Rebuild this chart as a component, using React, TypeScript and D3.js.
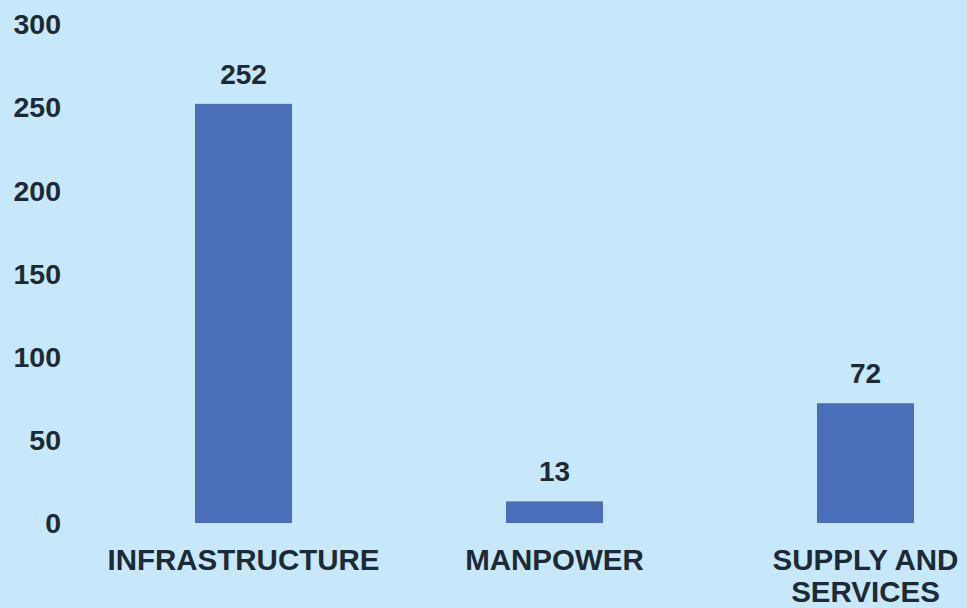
import React from "react";
import * as d3 from "d3";

const categories: string[][] = [["INFRASTRUCTURE"], ["MANPOWER"], ["SUPPLY AND", "SERVICES"]];
const values: number[] = [252, 13, 72];
const yTicks: number[] = [0, 50, 100, 150, 200, 250, 300];

const W = 967;
const H = 608;

export default function App() {
  const keys = categories.map((c) => c.join(" "));
  const x = d3.scaleBand<string>().domain(keys).range([88, 1021]).paddingInner(0.688).paddingOuter(0.344);
  const y = d3.scaleLinear().domain([0, 300]).range([523, 24]);
  const font = "'Liberation Sans', Arial, sans-serif";
  const textColor = "#1c2a36";
  return (
    <svg width={W} height={H} style={{ position: "absolute", left: 0, top: 0, display: "block" }}>
      <rect x={0} y={0} width={W} height={H} fill="#c6e8fa" />
      {yTicks.map((t) => (
        <text key={t} x={61} y={y(t)} dy="0.36em" textAnchor="end" fontFamily={font} fontWeight="bold" fontSize={28.5} fill={textColor}>
          {t}
        </text>
      ))}
      {keys.map((k, i) => (
        <g key={k}>
          <rect x={x(k)!} y={y(values[i])} width={x.bandwidth()} height={y(0) - y(values[i])} fill="#4a6eb7" />
          <text x={x(k)! + x.bandwidth() / 2} y={y(values[i]) - 20} textAnchor="middle" fontFamily={font} fontWeight="bold" fontSize={28} fill={textColor}>
            {values[i]}
          </text>
          {categories[i].map((line, j) => (
            <text key={j} x={x(k)! + x.bandwidth() / 2} y={570 + j * 32} textAnchor="middle" fontFamily={font} fontWeight="bold" fontSize={29.5} fill={textColor}>
              {line}
            </text>
          ))}
        </g>
      ))}
    </svg>
  );
}
